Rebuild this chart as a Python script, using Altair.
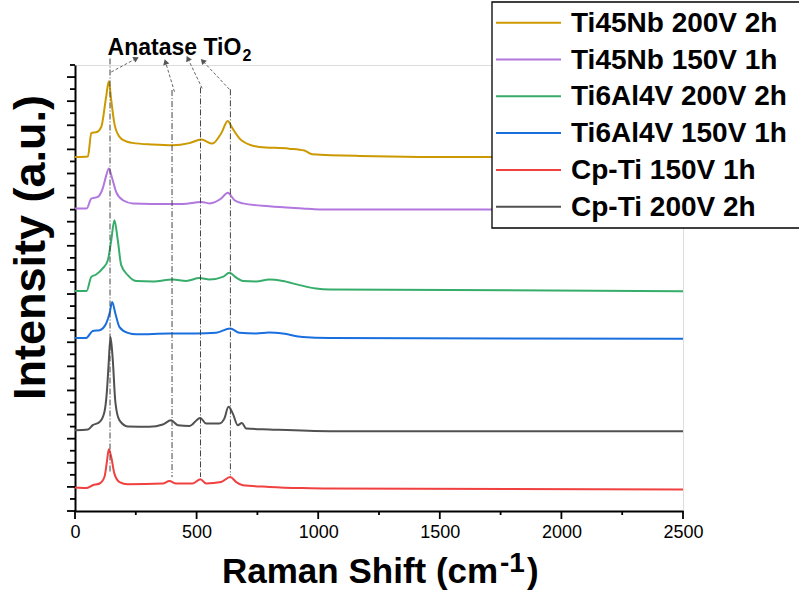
import math
import altair as alt
import pandas as pd

# Raman shift (cm^-1) and stacked intensity (a.u.) for each treated sample
ti45nb_200_x = [0, 53, 67, 90, 108, 128, 139, 149, 162, 183, 208, 236, 320, 401, 470, 519, 565, 602, 628, 647, 684, 758, 880, 943, 976, 1169, 1663, 2500]
ti45nb_200_y = [14.68, 14.70, 15.68, 15.72, 15.93, 17.18, 17.83, 17.04, 16.07, 15.52, 15.34, 15.27, 15.20, 15.17, 15.26, 15.41, 15.24, 15.68, 16.18, 15.88, 15.38, 15.10, 15.03, 14.95, 14.80, 14.73, 14.68, 14.68]

ti45nb_150_x = [0, 48, 67, 94, 114, 128, 139, 153, 169, 197, 238, 388, 443, 519, 553, 601, 628, 656, 690, 799, 936, 1005, 2500]
ti45nb_150_y = [12.55, 12.55, 12.96, 13.03, 13.38, 13.90, 14.21, 13.79, 13.24, 12.89, 12.76, 12.73, 12.73, 12.82, 12.76, 12.96, 13.20, 12.89, 12.76, 12.64, 12.55, 12.51, 12.51]

ti6al4v_200_x = [0, 48, 67, 87, 114, 135, 149, 162, 176, 190, 217, 251, 320, 402, 457, 512, 553, 608, 635, 663, 690, 745, 799, 854, 923, 991, 1046, 2500]
ti6al4v_200_y = [9.13, 9.13, 9.71, 9.81, 10.06, 10.40, 11.23, 12.06, 11.23, 10.20, 9.78, 9.54, 9.52, 9.60, 9.54, 9.66, 9.60, 9.71, 9.88, 9.68, 9.54, 9.52, 9.60, 9.54, 9.37, 9.23, 9.19, 9.12]

ti6al4v_150_x = [0, 46, 73, 101, 128, 142, 153, 166, 183, 217, 252, 388, 498, 580, 638, 676, 745, 799, 854, 936, 1046, 2500]
ti6al4v_150_y = [7.18, 7.18, 7.47, 7.50, 7.78, 8.19, 8.67, 8.19, 7.63, 7.39, 7.33, 7.36, 7.36, 7.39, 7.57, 7.39, 7.36, 7.40, 7.36, 7.22, 7.18, 7.14]

cpti_150_x = [0, 46, 73, 101, 121, 131, 139, 149, 162, 183, 217, 361, 388, 416, 484, 516, 539, 601, 638, 663, 690, 799, 936, 1046, 2500]
cpti_150_y = [0.97, 0.95, 1.07, 1.14, 1.41, 2.03, 2.56, 2.24, 1.55, 1.20, 1.11, 1.14, 1.24, 1.14, 1.14, 1.32, 1.14, 1.20, 1.41, 1.20, 1.07, 1.00, 0.95, 0.93, 0.89]

cpti_200_x = [0, 53, 73, 101, 121, 131, 138, 146, 155, 166, 183, 217, 306, 361, 395, 423, 471, 515, 539, 594, 614, 631, 649, 669, 686, 704, 799, 1046, 2500]
cpti_200_y = [3.35, 3.38, 3.56, 3.69, 4.11, 4.94, 6.05, 7.22, 6.32, 4.52, 3.76, 3.51, 3.49, 3.59, 3.76, 3.56, 3.53, 3.86, 3.63, 3.63, 3.83, 4.32, 4.04, 3.56, 3.65, 3.42, 3.38, 3.31, 3.31]

sample_names = ["Ti45Nb 200V 2h", "Ti45Nb 150V 1h", "Ti6Al4V 200V 2h",
                "Ti6Al4V 150V 1h", "Cp-Ti 150V 1h", "Cp-Ti 200V 2h"]
sample_colors = ["#CC9900", "#B177DE", "#37AD6B", "#1A6FDF", "#F14040", "#515151"]

# Anatase TiO2 reference bands: guide lines and arrows towards the label
anatase_shift = [144, 399, 516, 639]
anatase_top = [18.77, 17.46, 17.57, 17.49]
anatase_bottom = [1.62, 1.41, 1.41, 1.48]

arrow_x1 = [149, 409, 523, 635]
arrow_y1 = [18.21, 17.39, 17.53, 17.49]
arrow_x2 = [252, 372, 464, 525]
arrow_y2 = [18.77, 18.63, 18.77, 18.67]

label_x = [134]
label_y = [18.91]

x_major = list(range(0, 2501, 500))
x_minor = list(range(250, 2500, 500))
y_major = list(range(0, 19))
y_minor = [i + 0.5 for i in range(19)]

W, H = 608, 446
X_MAX, Y_MAX = 2500, 18.5
FONT = "Liberation Sans, Arial, sans-serif"

series = [
    (sample_names[0], ti45nb_200_x, ti45nb_200_y),
    (sample_names[1], ti45nb_150_x, ti45nb_150_y),
    (sample_names[2], ti6al4v_200_x, ti6al4v_200_y),
    (sample_names[3], ti6al4v_150_x, ti6al4v_150_y),
    (sample_names[4], cpti_150_x, cpti_150_y),
    (sample_names[5], cpti_200_x, cpti_200_y),
]
rows = []
for name, xs, ys in series:
    for xv, yv in zip(xs, ys):
        rows.append({"sample": name, "shift": xv, "intensity": yv})
spectra = pd.DataFrame(rows)

x_scale = alt.Scale(domain=[0, X_MAX], nice=False, zero=False)
y_scale = alt.Scale(domain=[0, Y_MAX], nice=False, zero=False)

# axes carry the line, labels and the y title; ticks are drawn as rules below
x_axis = alt.Axis(
    values=x_major, format="d", tickSize=8, tickOpacity=0,
    labelFlush=False, labelOverlap=False, labelPadding=4,
    labelFont=FONT, labelFontSize=18, labelColor="black",
    domainColor="black", domainWidth=2, grid=False, title="",
)
y_axis = alt.Axis(
    values=y_major, labels=False, tickSize=8, tickOpacity=0,
    domainColor="black", domainWidth=2, grid=False, title="Intensity (a.u.)",
    titleFont=FONT, titleFontSize=45, titleFontWeight="bold", titleColor="black",
    titleAngle=270, titleAlign="center", titleBaseline="middle",
    titleX=-45, titleY=182,
)

lines = alt.Chart(spectra).mark_line(strokeWidth=2, interpolate="monotone").encode(
    x=alt.X("shift:Q", scale=x_scale, axis=x_axis),
    y=alt.Y("intensity:Q", scale=y_scale, axis=y_axis),
    color=alt.Color("sample:N", scale=alt.Scale(domain=sample_names, range=sample_colors),
                    legend=None),
)


def x_ticks(values, length):
    return alt.Chart(pd.DataFrame({"v": values})).mark_rule(color="black", strokeWidth=1.8).encode(
        x=alt.X("v:Q", scale=x_scale), y=alt.value(H), y2=alt.value(H + length),
    )


def y_ticks(values, length):
    return alt.Chart(pd.DataFrame({"v": values})).transform_filter(
        f"datum.v <= {Y_MAX}"
    ).mark_rule(color="black", strokeWidth=1.8).encode(
        y=alt.Y("v:Q", scale=y_scale), x=alt.value(-length), x2=alt.value(0),
    )


ticks = [x_ticks(x_major, 8), x_ticks(x_minor, 4), y_ticks(y_major, 8), y_ticks(y_minor, 5)]

guides = alt.Chart(pd.DataFrame({
    "shift": anatase_shift, "top": anatase_top, "bottom": anatase_bottom,
})).mark_rule(color="#444444", strokeWidth=1, strokeDash=[6, 2, 1, 2]).encode(
    x="shift:Q", y="top:Q", y2="bottom:Q",
)

# arrow direction in screen space (degrees clockwise from up)
px_x = W / X_MAX
px_y = H / Y_MAX
arrow_angle = []
for a, b, c, d in zip(arrow_x1, arrow_y1, arrow_x2, arrow_y2):
    dx = (c - a) * px_x
    dy = -(d - b) * px_y
    arrow_angle.append(math.degrees(math.atan2(dx, -dy)) % 360)

arrows_df = pd.DataFrame({"x1": arrow_x1, "y1": arrow_y1, "x2": arrow_x2,
                          "y2": arrow_y2, "angle": arrow_angle})
arrows = alt.Chart(arrows_df).mark_rule(color="#666666", strokeWidth=1, strokeDash=[3, 2]).encode(
    x="x1:Q", y="y1:Q", x2="x2:Q", y2="y2:Q",
)
heads = alt.Chart(arrows_df).mark_point(shape="triangle-up", filled=True, size=40,
                                        color="#555555", opacity=1).encode(
    x="x2:Q", y="y2:Q", angle=alt.Angle("angle:Q", scale=None),
)

label_df = pd.DataFrame({"x": label_x, "y": label_y, "t": ["Anatase TiO"], "s": ["2"]})
label = alt.Chart(label_df).mark_text(
    align="left", baseline="alphabetic", font=FONT, fontSize=23, fontWeight="bold", color="black",
).encode(x="x:Q", y="y:Q", text="t:N")
label_sub = alt.Chart(label_df).mark_text(
    align="left", baseline="alphabetic", font=FONT, fontSize=16, fontWeight="bold",
    color="black", dx=135, dy=6,
).encode(x="x:Q", y="y:Q", text="s:N")

# x-axis title with a raised exponent
xt_main = alt.Chart(pd.DataFrame({"t": ["Raman Shift (cm"]})).mark_text(
    align="left", baseline="alphabetic", font=FONT, fontSize=35, fontWeight="bold", color="black",
).encode(x=alt.value(147), y=alt.value(518), text="t:N")
xt_sup = alt.Chart(pd.DataFrame({"t": ["-1"]})).mark_text(
    align="left", baseline="alphabetic", font=FONT, fontSize=28, fontWeight="bold", color="black",
).encode(x=alt.value(425), y=alt.value(507), text="t:N")
xt_close = alt.Chart(pd.DataFrame({"t": [")"]})).mark_text(
    align="left", baseline="alphabetic", font=FONT, fontSize=35, fontWeight="bold", color="black",
).encode(x=alt.value(452), y=alt.value(518), text="t:N")

# legend box in the upper right, over the plot
LEG_X, LEG_Y, ROW0, ROW_STEP = 417, -63, -42.3, 36.8
legend_layers = [
    alt.Chart(pd.DataFrame({"t": [""]})).mark_rect(
        fill="white", stroke="black", strokeWidth=1.3,
    ).encode(x=alt.value(LEG_X), x2=alt.value(740), y=alt.value(LEG_Y), y2=alt.value(163))
]
for i, (name, colr) in enumerate(zip(sample_names, sample_colors)):
    row_y = ROW0 + ROW_STEP * i
    item = pd.DataFrame({"t": [name]})
    legend_layers.append(
        alt.Chart(item).mark_rule(color=colr, strokeWidth=2).encode(
            x=alt.value(LEG_X + 4), x2=alt.value(LEG_X + 69), y=alt.value(row_y),
        )
    )
    legend_layers.append(
        alt.Chart(item).mark_text(
            align="left", baseline="middle", font=FONT, fontSize=28, fontWeight="bold", color="black",
        ).encode(x=alt.value(LEG_X + 79), y=alt.value(row_y + 1), text="t:N")
    )

chart = alt.layer(
    lines, *ticks, guides, arrows, heads, label, label_sub, xt_main, xt_sup, xt_close,
    *legend_layers,
).properties(
    width=W, height=H,
    autosize=alt.AutoSizeParams(type="none"),
    padding={"left": 75, "top": 65, "right": 116, "bottom": 86},
).configure_view(strokeWidth=0).configure(background="white")

chart.save("out.html", embed_options={"renderer": "svg", "actions": False})
